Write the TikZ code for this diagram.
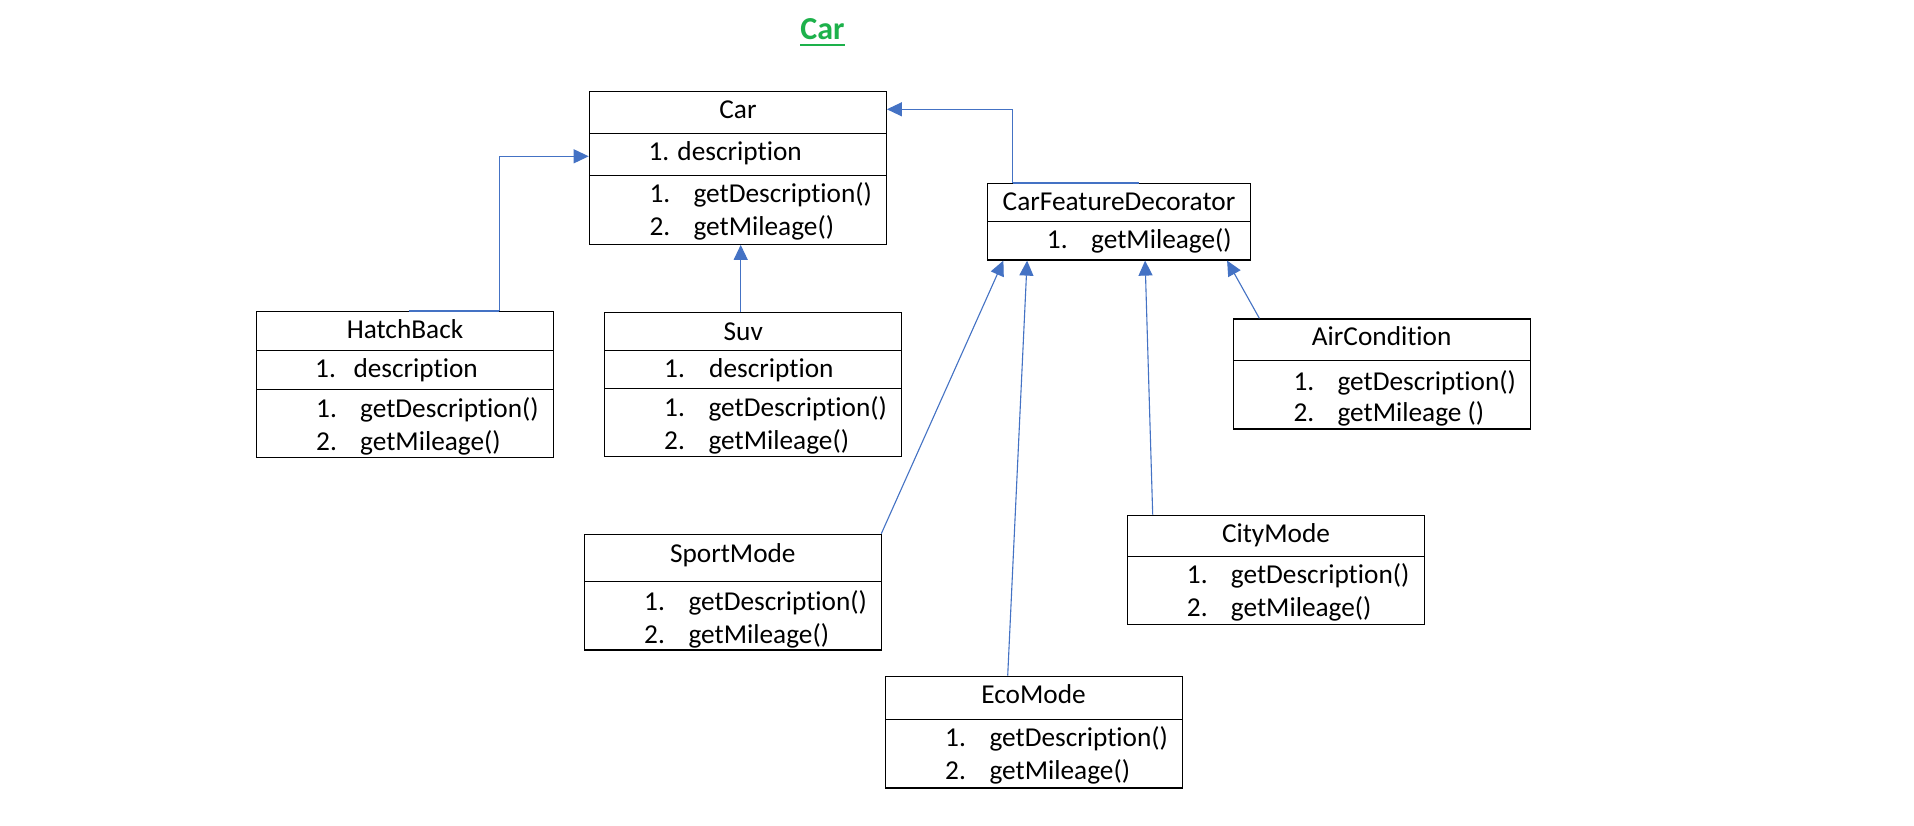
\documentclass[tikz,border=0pt]{standalone}
\usepackage{fontspec}
\setmainfont{Carlito}[Ligatures={NoCommon}]
\usetikzlibrary{arrows.meta}
\definecolor{connblue}{HTML}{4472C4}
\definecolor{titlegreen}{HTML}{1DB14B}
\tikzset{
  umlbox/.style={draw=black, line width=1.2pt, rectangle, inner sep=0pt, fill=none},
  divider/.style={draw=black, line width=1.2pt},
  txt/.style={inner sep=0pt, font=\fontsize{27.3}{32}\selectfont, text=black},
  ttl/.style={txt, anchor=base},
  itm/.style={txt, anchor=base west},
  conn/.style={draw=connblue, line width=1.1pt, -{Triangle[length=15pt,width=14pt]}},
  overlay line/.style={draw=connblue, line width=1.6pt}
}
\begin{document}
\begin{tikzpicture}[x=1pt,y=-1pt]
\useasboundingbox (0,0) rectangle (1914,825);
\fill[white] (0,0) rectangle (1914,825);

% title
\node[inner sep=0pt, anchor=base, font=\fontsize{32}{36}\selectfont\bfseries, text=titlegreen] (maintitle) at (822.5,39.3) {Car};
\draw[titlegreen, line width=2.2pt] (800,45) -- (845,45);

% ---------- boxes ----------
\node[umlbox, minimum width=297pt, minimum height=153pt] (car) at (737.8,167.8) {};
\draw[divider] (589.3,133.3) -- (886.3,133.3);
\draw[divider] (589.3,175.3) -- (886.3,175.3);
\node[ttl] (carT) at (738,118.3) {Car};
\node[itm] (carA) at (648.3,160) {1. description};
\node[itm] (carM1n) at (649.3,202.3) {1.};
\node[itm] (carM1) at (693.3,202.3) {getDescription()};
\node[itm] (carM2n) at (649.3,235) {2.};
\node[itm] (carM2) at (693.3,235) {getMileage()};

\node[umlbox, minimum width=297pt, minimum height=145.6pt] (hatch) at (404.8,384.5) {};
\draw[divider] (256.3,350.3) -- (553.3,350.3);
\draw[divider] (256.3,389.3) -- (553.3,389.3);
\node[ttl] (hatchT) at (405,338.3) {HatchBack};
\node[itm] (hatchAn) at (315,377.7) {1.};
\node[itm] (hatchA) at (353.3,377.7) {description};
\node[itm] (hatchM1n) at (316,417.3) {1.};
\node[itm] (hatchM1) at (360,417.3) {getDescription()};
\node[itm] (hatchM2n) at (316,450) {2.};
\node[itm] (hatchM2) at (360,450) {getMileage()};

\node[umlbox, minimum width=297.4pt, minimum height=143.6pt] (suv) at (753,384.5) {};
\draw[divider] (604.3,350.7) -- (901.7,350.7);
\draw[divider] (604.3,388.7) -- (901.7,388.7);
\node[ttl] (suvT) at (743.3,340) {Suv};
\node[itm] (suvAn) at (664,377.7) {1.};
\node[itm] (suvA) at (709,377.7) {description};
\node[itm] (suvM1n) at (664,416.7) {1.};
\node[itm] (suvM1) at (708.3,416.7) {getDescription()};
\node[itm] (suvM2n) at (664,449.3) {2.};
\node[itm] (suvM2) at (708.3,449.3) {getMileage()};

\node[umlbox, minimum width=263pt, minimum height=76.7pt] (cfd) at (1118.8,221.65) {};
\draw[divider] (987.3,221.3) -- (1250.3,221.3);
\node[ttl] (cfdT) at (1119,210.7) {CarFeatureDecorator};
\node[itm] (cfdM1n) at (1046.7,248.3) {1.};
\node[itm] (cfdM1) at (1091,248.3) {getMileage()};

\node[umlbox, minimum width=297pt, minimum height=110pt] (air) at (1382.2,374) {};
\draw[divider] (1233.7,360.7) -- (1530.7,360.7);
\node[ttl] (airT) at (1381.7,345.7) {AirCondition};
\node[itm] (airM1n) at (1293.3,390) {1.};
\node[itm] (airM1) at (1337.3,390) {getDescription()};
\node[itm] (airM2n) at (1293.3,421.7) {2.};
\node[itm] (airM2) at (1337.3,421.7) {getMileage ()};

\node[umlbox, minimum width=297.4pt, minimum height=109pt] (city) at (1276,569.8) {};
\draw[divider] (1127.3,556.7) -- (1424.7,556.7);
\node[ttl] (cityT) at (1276,542.7) {CityMode};
\node[itm] (cityM1n) at (1186.7,583.3) {1.};
\node[itm] (cityM1) at (1230.7,583.3) {getDescription()};
\node[itm] (cityM2n) at (1186.7,616.7) {2.};
\node[itm] (cityM2) at (1230.7,616.7) {getMileage()};

\node[umlbox, minimum width=297.4pt, minimum height=115.7pt] (sport) at (733,592.15) {};
\draw[divider] (584.3,581.3) -- (881.7,581.3);
\node[ttl] (sportT) at (732.8,562.7) {SportMode};
\node[itm] (sportM1n) at (644,610) {1.};
\node[itm] (sportM1) at (688.3,610) {getDescription()};
\node[itm] (sportM2n) at (644,643.3) {2.};
\node[itm] (sportM2) at (688.3,643.3) {getMileage()};

\node[umlbox, minimum width=297pt, minimum height=111.7pt] (eco) at (1033.8,732.15) {};
\draw[divider] (885.3,719.7) -- (1182.3,719.7);
\node[ttl] (ecoT) at (1033.5,703.3) {EcoMode};
\node[itm] (ecoM1n) at (945,746.7) {1.};
\node[itm] (ecoM1) at (989.3,746.7) {getDescription()};
\node[itm] (ecoM2n) at (945,779.3) {2.};
\node[itm] (ecoM2) at (989.3,779.3) {getMileage()};

% ---------- connectors ----------
% CarFeatureDecorator -> Car
\draw[overlay line] ([xshift=26pt]cfd.north west) -- ([xshift=152.7pt]cfd.north west);
\draw[conn] ([xshift=26pt]cfd.north west) |- ([yshift=58.5pt]car.east);
% HatchBack -> Car
\draw[overlay line] ([xshift=153.7pt]hatch.north west) -- ([xshift=243.7pt]hatch.north west);
\draw[conn] ([xshift=243.7pt]hatch.north west) |- ([yshift=11.5pt]car.west);
% Suv -> Car
\coordinate (suvtop) at ([xshift=137pt]suv.north west);
\draw[conn] (suvtop) -- (suvtop |- car.south);
% decorators -> CarFeatureDecorator
\draw[conn] ([xshift=-1pt]sport.north east) -- ([xshift=16.7pt]cfd.south west);
\draw[conn] ([xshift=123pt]eco.north west) -- ([xshift=40.4pt]cfd.south west);
\draw[conn] ([xshift=26pt]city.north west) -- ([xshift=158.4pt]cfd.south west);
\draw[conn] ([xshift=26.3pt]air.north west) -- ([xshift=240.4pt]cfd.south west);
\end{tikzpicture}
\end{document}
